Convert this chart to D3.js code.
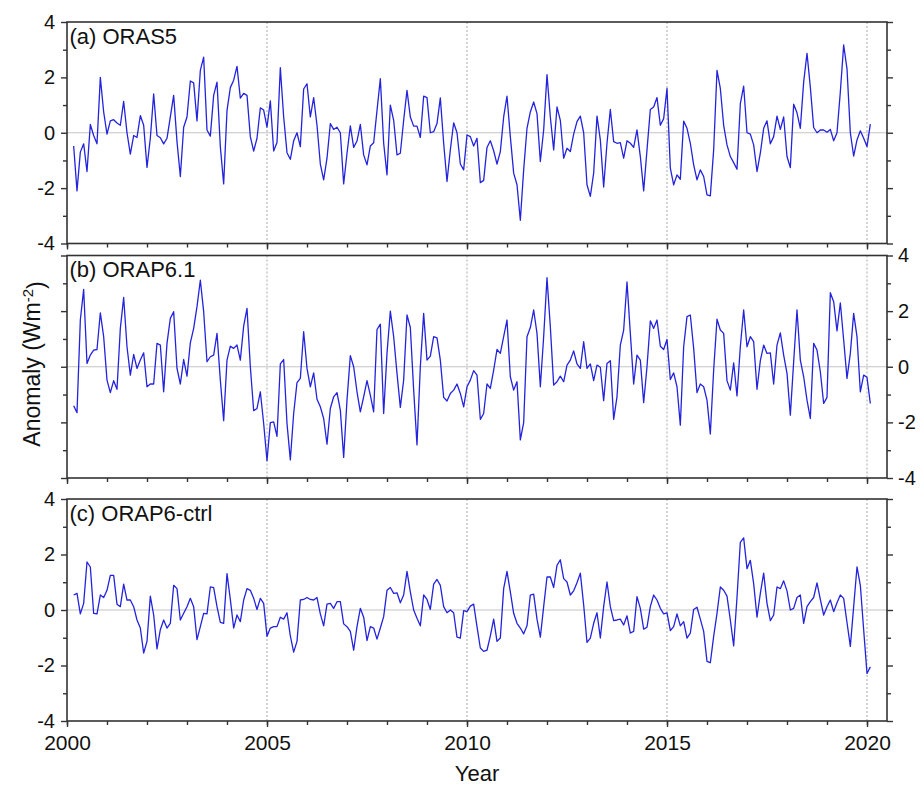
<!DOCTYPE html>
<html>
<head>
<meta charset="utf-8">
<script src="https://cdn.jsdelivr.net/npm/d3@7"></script>
<style>
  body { margin: 0; background: #fff; }
  svg { display: block; font-family: "Liberation Sans", Arial, Helvetica, sans-serif; }
</style>
</head>
<body>
<svg id="chart" width="924" height="787"></svg>
<script>
// ---------------- DATA (monthly anomalies, Mar 2000 .. Feb 2020) ----------------
const firstYear = 2000;
const firstMonthIndex = 2; // March (0 = January)

const orasValues = [
  -0.48, -2.1, -0.7, -0.4, -1.4, 0.3, -0.1, -0.4, 2.0, 0.75,
  -0.05, 0.43, 0.47, 0.35, 0.27, 1.13, 0, -0.77, -0.1, -0.17,
  0.62, 0.27, -1.25, -0.2, 1.4, -0.1, -0.18, -0.4, -0.2, 0.57,
  1.35, -0.32, -1.58, 0.2, 0.57, 1.87, 1.8, 0.43, 2.25, 2.73,
  0.1, -0.12, 1.35, 1.83, -0.5, -1.85, 0.8, 1.63, 1.9, 2.4,
  1.25, 1.42, 1.35, -0.14, -0.66, -0.2, 0.9, 0.82, 0.2, 1.15,
  -0.66, -0.35, 2.35, 0.57, -0.72, -0.96, -0.29, 0, -0.5, 1.58,
  1.77, 0.57, 1.27, 0.27, -1.13, -1.7, -0.92, 0.33, 0.12, 0.2,
  0,
  -1.85, -0.75, 0.25, -0.53, -0.3, 0.3, -0.8, -1.16, -0.48, -0.36,
  0.8, 1.95, -0.38, -1.52, 1.0, 0.45, -0.8, -0.74, 0.45, 1.53,
  0.57, 0.24, 0.24, -0.17, 1.32, 1.27, 0, 0.04, 0.33, 1.26,
  -0.38, -1.76, -0.62, 0.36, 0, -1.13, -1.34, -0.08, -0.14, -0.48,
  -0.2, -1.8, -1.72, -0.53, -0.29, -0.65, -1.13, -0.68, 0.57, 1.32,
  -0.14, -1.46, -1.88, -3.16, -1.34, 0.16, 0.75, 1.11, 0.69, -1.04,
  0.1, 2.1, 0.57, -0.62, 0.93, 0.45, -0.92, -0.56, -0.68, -0.05,
  0.4, 0.6, 0, -1.88, -2.3, -1.46, 0.6, -0.26, -1.96, -0.38,
  0.84, -0.32, -0.38, -0.36,
  -0.92, -0.29, -0.38, -0.53, 0.1, -0.86, -2.1, -0.62, 0.84, 0.93,
  1.27, 0.27, 0.51, 1.6, -1.28, -1.88, -1.52, -1.68, 0.42, 0.16,
  -0.38, -1.16, -1.7, -1.34, -1.58, -2.24, -2.28, -0.62, 2.25, 1.6,
  0.27, -0.44, -0.86, -1.08, -1.32, 1.05, 1.68, 0, -0.05, -0.44,
  -1.4, -0.74, 0.16, 0.43, -0.4, -0.14, 0.6, 0.12, 0.57, -0.86,
  -1.26, 1.03, 0.72, 0.16, 1.83, 2.87, 1.65, 0.19, 0, 0.1,
  0.1, 0.02, 0.12, -0.29, 0, 1.47, 3.17, 2.31, 0, -0.84,
  -0.26, 0.07, -0.2, -0.5, 0.31
];

const orap61Values = [
  -1.4, -1.65, 1.68, 2.78, 0.12, 0.42, 0.6, 0.62, 1.94, 1.08,
  -0.48, -0.93, -0.5, -0.81, 1.38, 2.49, 0.72, -0.3, 0.44, -0.06,
  0.24, 0.5, -0.72, -0.62, -0.62, 0.84, 0.78, -0.9, 0.84, 1.74,
  1.98, -0.06, -0.62, 0.26, -0.34, 0.86, 1.38, 2.16, 3.11, 1.98,
  0.18, 0.36, 0.42, 1.2, -0.48, -1.94, 0.24, 0.74, 0.66, 0.78,
  0.24, 1.46, 2.1, 0, -1.58, -1.5, -0.9, -2.04, -3.38, -2.01,
  -1.98, -2.5, 0.1, 0.26, -2.04, -3.35, -1.68, -0.57, -0.42, 1.26,
  -0.06, -0.72, -0.22, -1.17, -1.44, -1.86, -2.78, -1.5, -1.08, -0.93,
  -1.56,
  -3.26, -1.2, 0.4, 0, -0.9, -1.62, -1.08, -0.5, -1.02, -1.62,
  1.34, 1.53, -1.68, 0.48, 2.0, 1.08, -0.24, -1.46, -0.48, 1.86,
  1.41, -0.84, -2.81, 0, 1.92, 0.24, 0.38, 1.08, 1.04, 0.24,
  -1.1, -1.23, -0.96, -0.84, -0.62, -0.96, -1.44, -0.72, -0.48, -0.14,
  -0.3, -1.89, -1.68, -0.62, -0.78, -0.12, 0.62, 0.48, 1.08, 1.68,
  -0.36, -0.84, -0.54, -2.63, -2.01, 1.08, 1.41, 2.04, 1.2, -0.72,
  1.08, 3.2, 1.44, -0.66, -0.54, -0.34, -0.54, 0.06, 0.24, 0.57,
  0.1, -0.06, 0.9, -0.06, 0.1, -0.5, 0.06, -0.02, -1.22, 0.12,
  0.22, -1.89, -1.08, 0.78,
  1.32, 3.05, 1.2, -0.62, 0.42, 0.24, -1.29, 0, 1.65, 1.38,
  1.68, 0.74, 0.62, 0.98, -0.46, -0.22, -0.72, -2.1, 0.72, 1.8,
  1.86, 0.66, -0.93, -0.62, -0.72, -1.2, -2.42, -0.12, 1.71, 1.32,
  1.2, -0.5, -0.84, 0.14, -1.05, 0.72, 2.04, 0.72, 1.08, 0.9,
  -0.81, 0.22, 0.78, 0.48, 0.5, -0.62, 0.78, 1.22, 0.42, -0.24,
  -1.74, 0.18, 2.04, 0.24, -0.36, -1.2, -1.86, 0.84, 0.6, -0.18,
  -1.32, -1.1, 2.66, 2.34, 1.29, 2.3, 0.96, -0.42, 0.48, 1.92,
  1.08, -0.9, -0.3, -0.38, -1.32
];

const orap6CtrlValues = [
  0.54, 0.6, -0.14, 0.24, 1.73, 1.55, -0.12, -0.14, 0.54, 0.45,
  0.71, 1.25, 1.25, 0.21, 0.12, 0.93, 0.36, 0.36, 0.12, -0.36,
  -0.65, -1.55, -1.13, 0.5, -0.18, -1.4, -0.71, -0.36, -0.65, -0.48,
  0.89, 0.77, -0.36, -0.12, 0.12, 0.42, 0.12, -1.07, -0.6, -0.12,
  -0.14, 0.83, 0.81, 0.12, -0.45, -0.48, 1.31, 0.38, -0.65, -0.18,
  -0.42, 0.36, 0.77, 0.71, 0.42, 0.02, 0.42, 0.24, -0.95, -0.65,
  -0.6, -0.6, -0.26, -0.33, -0.1, -0.93, -1.52, -1.13, 0.36, 0.38,
  0.45, 0.38, 0.36, 0.45, -0.14, -0.57, 0.21, 0.24, 0.06, 0.3,
  0.3,
  -0.5, -0.6, -0.77, -1.45, -0.6, 0.06, -0.26, -1.1, -0.6, -0.65,
  -1.05, -0.65, -0.24, 0.71, 0.81, 0.6, 0.62, 0.26, 0.54, 1.39,
  0.65, 0, -0.3, -0.57, 0.54, 0.38, 0.02, 0.93, 1.1, 0.89,
  0.12, -0.1, 0, -0.1, -0.98, -1.01, -0.02, -0.06, 0.14, 0.21,
  -0.6, -1.37, -1.49, -1.45, -0.93, -0.33, -1.13, -1.01, 0.77, 1.39,
  0.65, -0.12, -0.48, -0.65, -0.86, -0.57, 0.54, 0.57, -0.33, -0.98,
  0.12, 1.19, 1.19, 0.81, 1.61, 1.81, 1.13, 1.01, 0.54, 0.69,
  0.98, 1.33, 0.18, -1.17, -1.01, -0.48, -0.1, -1.01, 0.12, 1.01,
  0.12, -0.38, -0.36, -0.33,
  -0.54, -0.21, -0.83, -0.77, 0.48, 0.06, -0.69, -0.62, 0.12, 0.54,
  0.36, 0.06, -0.14, -0.1, -0.74, -0.6, -0.14, -0.57, -0.42, -1.01,
  -0.83, 0.02, 0.1, -0.33, -0.77, -1.85, -1.9, -0.95, -0.12, 0.83,
  0.71, 0.5, -0.36, -1.29, 0.45, 2.44, 2.6, 1.49, 1.79, 0.95,
  -0.26, 0.6, 1.33, 0.24, -0.38, -0.18, 0.83, 0.77, 1.05, 0.69,
  0, 0.06, 0.45, 0.54, -0.48, 0.12, 0.3, 0.45, 0.98, 0.38,
  -0.18, 0.12, 0.36, -0.06, 0.26, 0.54, 0.42, -0.45, -1.31, 0.12,
  1.55, 0.89, -0.71, -2.29, -2.05
];

const panelTitles = ["(a) ORAS5", "(b) ORAP6.1", "(c) ORAP6-ctrl"];
const yearMajorTicks = [2000, 2005, 2010, 2015, 2020];
const yearMinorTicks = d3.range(2000, 2021, 1);
const yearGuideLines = [2005, 2010, 2015, 2020];
const yMajorTicks = [-4, -2, 0, 2, 4];
const yMinorTicks = [-3, -1, 1, 3];
const xAxisTitle = "Year";

// ---------------- LAYOUT ----------------
const svg = d3.select("#chart");
const left = 67, right = 887;
const x = d3.scaleLinear().domain([2000, 2020.5]).range([left, right]);

const panels = [
  { title: panelTitles[0], values: orasValues,     top: 22,    bottom: 243.5, labelSide: "left",  xLabels: false },
  { title: panelTitles[1], values: orap61Values,   top: 255.5, bottom: 478,   labelSide: "right", xLabels: false },
  { title: panelTitles[2], values: orap6CtrlValues, top: 499,  bottom: 721,   labelSide: "left",  xLabels: true }
];

const lineColor = "#2323dd";
const axisColor = "#333";
const fmt = d => (d < 0 ? "-" + Math.abs(d) : String(d));

panels.forEach(p => {
  const y = d3.scaleLinear().domain([-4, 4]).range([p.bottom, p.top]);
  const g = svg.append("g");
  const series = p.values.map((v, i) => ({ t: firstYear + (firstMonthIndex + i) / 12, v }));

  // zero line
  g.append("line")
    .attr("x1", left).attr("x2", right)
    .attr("y1", y(0)).attr("y2", y(0))
    .attr("stroke", "#c4c4c4").attr("stroke-width", 1.2);

  // dotted year guide lines
  g.selectAll(".guide").data(yearGuideLines).enter().append("line")
    .attr("x1", d => x(d)).attr("x2", d => x(d))
    .attr("y1", p.top).attr("y2", p.bottom)
    .attr("stroke", "#a8a8a8").attr("stroke-width", 1)
    .attr("stroke-dasharray", "2,2");

  // data line
  g.append("path")
    .datum(series)
    .attr("fill", "none")
    .attr("stroke", lineColor)
    .attr("stroke-width", 1.3)
    .attr("stroke-linejoin", "round")
    .attr("d", d3.line().x(d => x(d.t)).y(d => y(d.v)));

  // bottom axis: minor then major
  const bMinor = g.append("g").attr("transform", `translate(0,${p.bottom})`)
    .call(d3.axisBottom(x).tickValues(yearMinorTicks).tickSize(4).tickSizeOuter(0).tickFormat(""));
  const bMajor = g.append("g").attr("transform", `translate(0,${p.bottom})`)
    .call(d3.axisBottom(x).tickValues(yearMajorTicks).tickSize(6).tickSizeOuter(0).tickPadding(8)
      .tickFormat(p.xLabels ? d3.format("d") : ""));
  bMajor.selectAll("text").style("font-size", "21px").attr("fill", "#111");

  // left axis
  const lMinor = g.append("g").attr("transform", `translate(${left},0)`)
    .call(d3.axisLeft(y).tickValues(yMinorTicks).tickSize(4).tickSizeOuter(0).tickFormat(""));
  const lMajor = g.append("g").attr("transform", `translate(${left},0)`)
    .call(d3.axisLeft(y).tickValues(yMajorTicks).tickSize(6).tickSizeOuter(0).tickPadding(6)
      .tickFormat(p.labelSide === "left" ? fmt : ""));
  lMajor.selectAll("text").style("font-size", "20px").attr("fill", "#111");

  // right axis
  const rMinor = g.append("g").attr("transform", `translate(${right},0)`)
    .call(d3.axisRight(y).tickValues(yMinorTicks).tickSize(4).tickSizeOuter(0).tickFormat(""));
  const rMajor = g.append("g").attr("transform", `translate(${right},0)`)
    .call(d3.axisRight(y).tickValues(yMajorTicks).tickSize(6).tickSizeOuter(0).tickPadding(5)
      .tickFormat(p.labelSide === "right" ? fmt : ""));
  rMajor.selectAll("text").style("font-size", "20px").attr("fill", "#111");

  [bMinor, bMajor, lMinor, lMajor, rMinor, rMajor].forEach(a => {
    a.select(".domain").remove();
    a.selectAll(".tick line").attr("stroke", axisColor).attr("stroke-width", 1.4);
  });

  // frame
  g.append("rect")
    .attr("x", left).attr("y", p.top)
    .attr("width", right - left).attr("height", p.bottom - p.top)
    .attr("fill", "none").attr("stroke", axisColor).attr("stroke-width", 1.6);

  // panel title
  g.append("text")
    .attr("x", left + 2.5).attr("y", p.top + 21.5)
    .style("font-size", "22px").attr("fill", "#111")
    .text(p.title);
});

// x axis title
svg.append("text")
  .attr("x", (left + right) / 2).attr("y", 781)
  .attr("text-anchor", "middle")
  .style("font-size", "22px").attr("fill", "#111")
  .text(xAxisTitle);

// y axis title
const yTitle = svg.append("text")
  .attr("transform", "translate(40,364) rotate(-90)")
  .attr("text-anchor", "middle")
  .style("font-size", "23px").attr("fill", "#111");
yTitle.append("tspan").text("Anomaly (Wm");
yTitle.append("tspan").attr("dy", "-0.45em").style("font-size", "15px").text("-2");
yTitle.append("tspan").attr("dy", "0.45em").text(")");
</script>
</body>
</html>
